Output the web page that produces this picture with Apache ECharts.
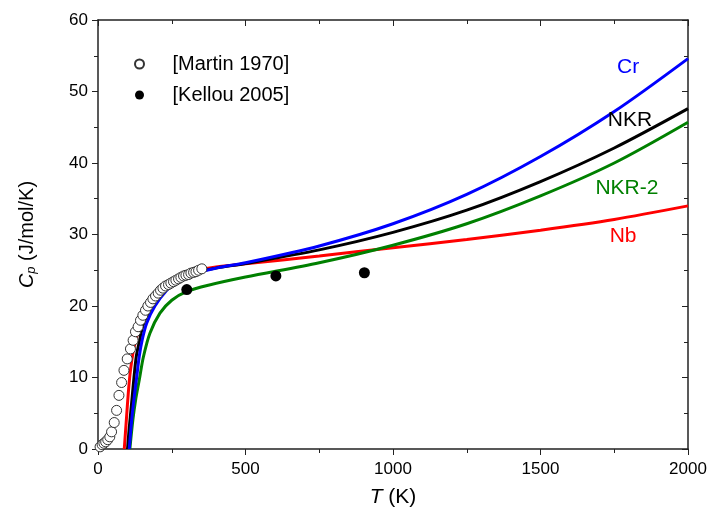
<!DOCTYPE html>
<html>
<head>
<meta charset="utf-8">
<script src="https://cdn.jsdelivr.net/npm/echarts@6/dist/echarts.min.js"></script>
<style>html,body{margin:0;padding:0;background:#fff;}#c{width:710px;height:518px;}</style>
</head>
<body>
<div id="c"></div>
<script>
// ---- data (T in K, Cp in J/mol/K) ----
const crData = [[106,0],[114,4],[122,7],[131,10],[140,13],[150,15.3],[165,17.6],[193,20],[233,22.2],[272,23.6],[329,24.6],[400,25.3],[500,26.05],[750,28.4],[1000,31.5],[1250,35.6],[1500,40.9],[1750,47.2],[2000,54.6]];
const nkrData = [[100,0],[106,3],[113,6],[122,10],[130,13],[140,15],[155,17.6],[185,20],[225,22.2],[265,23.6],[325,24.6],[400,25.3],[500,25.95],[750,27.85],[1000,30.3],[1250,33.4],[1500,37.4],[1750,42.1],[2000,47.6]];
const nkr2Data = [[108,0],[118,4],[128,7],[140,9.7],[154,12.9],[176,16.2],[210,19.0],[250,20.8],[300,22.0],[374,22.9],[500,24.05],[750,26.05],[1000,28.5],[1250,31.5],[1500,35.4],[1750,40.0],[2000,45.7]];
const nbData = [[89,0],[96,4],[103,8],[110,11],[120,13.8],[128,15.2],[140,17],[160,19.3],[185,21.2],[220,22.9],[270,24.1],[330,24.9],[400,25.45],[500,25.9],[750,27.0],[1000,28.15],[1250,29.3],[1500,30.6],[1750,32.1],[2000,34.0]];
const martinData = [[7,0.3],[14,0.6],[20,0.8],[26,1.0],[33,1.3],[40,1.7],[46,2.4],[55,3.7],[63,5.4],[71,7.5],[80,9.3],[88,11.0],[99,12.6],[110,14.0],[119,15.2],[127,16.4],[136,17.1],[144,18.0],[152,18.7],[161,19.4],[169,20.0],[178,20.5],[186,21.0],[195,21.4],[204,21.8],[212,22.2],[220,22.5],[229,22.8],[239,23.0],[247,23.2],[256,23.4],[264,23.6],[273,23.8],[281,24.0],[290,24.2],[298,24.3],[307,24.4],[315,24.6],[324,24.7],[332,24.8],[341,25.0],[352,25.2]];
const kellouData = [[301,22.3],[603,24.2],[903,24.65]];
const seriesNames = ['Cr','NKR','NKR-2','Nb'];
const legendNames = ['[Martin 1970]','[Kellou 2005]'];

// label anchor points (data coords)
const labelAt = {'Cr':[1797,53.4],'NKR':[1803,46.0],'NKR-2':[1793,36.5],'Nb':[1780,29.7]};
const colors = {'Cr':'#0000ff','NKR':'#000000','NKR-2':'#008000','Nb':'#ff0000'};
const FONT = 'Arial, "Liberation Sans", sans-serif';

function lineSeries(name, data){
  return {
    name: name, type:'line', data: data, showSymbol:false, smooth:0.3,
    lineStyle:{color:colors[name], width:3}, itemStyle:{color:colors[name]}, z:2,
    markPoint:{symbol:'circle', symbolSize:0, silent:true,
      label:{show:true, position:'inside', formatter:name, color:colors[name], fontSize:21, fontFamily:FONT},
      data:[{coord:labelAt[name]}]}
  };
}

const chart = echarts.init(document.getElementById('c'), null, {renderer:'canvas'});
const axisCommon = {
  axisLine:{show:true, onZero:false, lineStyle:{color:'#222', width:1.5}},
  splitLine:{show:false}
};
chart.setOption({
  animation:false,
  backgroundColor:'#fff',
  grid:{left:98, right:22, top:20, bottom:69, containLabel:false},
  legend:{
    data: legendNames, orient:'vertical', left:129, top:48,
    itemWidth:56, itemHeight:9, itemGap:9,
    textStyle:{fontSize:20, fontFamily:FONT, color:'#000', lineHeight:22}
  },
  xAxis:[
    Object.assign({}, axisCommon, {type:'value', min:0, max:2000, interval:500, position:'bottom',
      name:'{i|T} (K)', nameLocation:'middle', nameGap:38,
      nameTextStyle:{fontSize:21, fontFamily:FONT, color:'#000', rich:{i:{fontStyle:'italic', fontSize:21, fontFamily:FONT}}},
      axisTick:{show:true, inside:false, length:6, lineStyle:{color:'#222'}},
      minorTick:{show:true, splitNumber:2, length:4, lineStyle:{color:'#222'}},
      axisLabel:{fontSize:17, fontFamily:FONT, color:'#000', margin:12, formatter:function(v){return String(v);}}}),
    Object.assign({}, axisCommon, {type:'value', min:0, max:2000, interval:500, position:'top',
      axisTick:{show:true, inside:true, length:6, lineStyle:{color:'#222'}},
      minorTick:{show:true, splitNumber:2, length:4, lineStyle:{color:'#222'}},
      axisLabel:{show:false}})
  ],
  yAxis:[
    Object.assign({}, axisCommon, {type:'value', min:0, max:60, interval:10, position:'left',
      name:'{i|C}{s|p} (J/mol/K)', nameLocation:'middle', nameGap:60, nameRotate:90,
      nameTextStyle:{fontSize:20, fontFamily:FONT, color:'#000',
        rich:{i:{fontStyle:'italic', fontSize:20, fontFamily:FONT}, s:{fontStyle:'italic', fontSize:13, fontFamily:FONT, verticalAlign:'bottom', padding:[8,0,0,0]}}},
      axisTick:{show:true, inside:false, length:6, lineStyle:{color:'#222'}},
      minorTick:{show:true, splitNumber:2, length:4, lineStyle:{color:'#222'}},
      axisLabel:{fontSize:17, fontFamily:FONT, color:'#000', margin:10, formatter:function(v){return String(v);}}}),
    Object.assign({}, axisCommon, {type:'value', min:0, max:60, interval:10, position:'right',
      axisTick:{show:true, inside:true, length:6, lineStyle:{color:'#222'}},
      minorTick:{show:true, splitNumber:2, length:4, lineStyle:{color:'#222'}},
      axisLabel:{show:false}})
  ],
  series:[
    {name:legendNames[0], type:'scatter', data:martinData, symbol:'circle', symbolSize:10,
      itemStyle:{color:'#fff', borderColor:'#333', borderWidth:1, opacity:1}, z:4},
    {name:legendNames[1], type:'scatter', data:kellouData, symbol:'circle', symbolSize:11,
      itemStyle:{color:'#000', opacity:1}, z:4},
    lineSeries(seriesNames[3], nbData),
    lineSeries(seriesNames[2], nkr2Data),
    lineSeries(seriesNames[1], nkrData),
    lineSeries(seriesNames[0], crData)
  ]
});
</script>
</body>
</html>
